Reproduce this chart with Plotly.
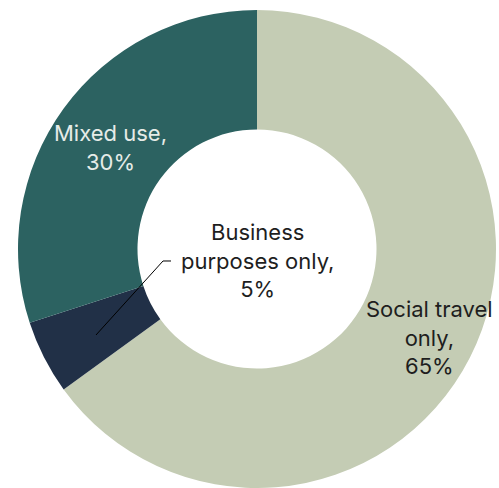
import plotly.graph_objects as go

# Purpose of travel shares
categories = ["Social travel only", "Business purposes only", "Mixed use"]
shares = [65, 5, 30]
colors = ["#C4CCB4", "#213047", "#2C6261"]
label_lines = ["Social travel<br>only,", "Business<br>purposes only,", "Mixed use,"]
text_colors = ["#1E1E1E", "#1E1E1E", "#E6ECE8"]
# label anchor points in pixels (x, y from top)
label_pos = [(429, 337), (257, 260), (110, 147)]

W, H = 499, 488
M = dict(l=16, r=1, t=10, b=0)
FONT = "Inter, 'Open Sans', Arial, sans-serif"
PW = W - M["l"] - M["r"]
PH = H - M["t"] - M["b"]


def to_paper(px, py):
    return (px - M["l"]) / PW, 1 - (py - M["t"]) / PH


fig = go.Figure(
    go.Pie(
        labels=categories,
        values=shares,
        textinfo="none",
        hole=0.5,
        sort=False,
        direction="clockwise",
        rotation=0,
        marker=dict(colors=colors, line=dict(width=0)),
        showlegend=False,
    )
)

for lbl, v, col, (px, py) in zip(label_lines, shares, text_colors, label_pos):
    x, y = to_paper(px, py)
    fig.add_annotation(
        x=x, y=y, xref="paper", yref="paper",
        text=f"{lbl}<br>{v}%", showarrow=False,
        font=dict(family=FONT, size=22, color=col),
        align="center", xanchor="center", yanchor="middle",
    )

# leader line from the small slice to its label in the hole
pts = [to_paper(96, 335), to_paper(163, 261), to_paper(171, 261)]
path = "M " + " L ".join(f"{x:.4f} {y:.4f}" for x, y in pts)
fig.add_shape(
    type="path", xref="paper", yref="paper", path=path,
    line=dict(color="#000000", width=1),
)

fig.update_layout(
    width=W, height=H, autosize=False,
    margin=M,
    paper_bgcolor="white", plot_bgcolor="white",
)

fig.write_html("out.html")
